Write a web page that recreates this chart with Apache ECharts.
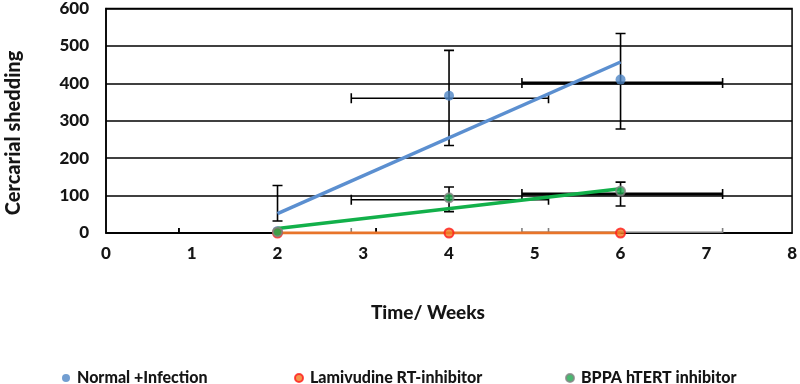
<!DOCTYPE html>
<html>
<head>
<meta charset="utf-8">
<script src="https://cdn.jsdelivr.net/npm/echarts@6/dist/echarts.min.js"></script>
<style>
html,body{margin:0;padding:0;background:#fff;}
#chart{width:800px;height:384px;}
</style>
</head>
<body>
<div id="chart"></div>
<script>
// ---- data ----
const seriesNames = ['Normal +Infection', 'Lamivudine RT-inhibitor', 'BPPA hTERT inhibitor'];
const weeks = [2, 4, 6];
const normalValues = [5, 367, 410];
const lamivudineValues = [0, 0, 0];
const bppaValues = [3, 94, 112];

// linear trendlines (endpoints)
const normalTrend = [[2, 52], [6, 457]];
const lamivudineTrend = [[2, 0], [6, 0]];
const bppaTrend = [[2, 12], [6, 118]];

// vertical error bars: [x, low, high]
const normalVErr = [[2, 32, 127], [4, 234, 488], [6, 278, 533]];
const bppaVErr = [[4, 57, 123], [6, 72, 136]];

// horizontal error bars: [y, xLow, xHigh]
const normalHErr = [[0, 0.85, 3.15], [360, 2.86, 5.16], [401, 4.85, 7.19]];
const bppaHErr = [[0, 0.85, 3.15], [89, 2.86, 5.16], [104, 4.85, 7.19]];
const lamivudineHErr = [[0, 2.86, 5.16], [0, 4.85, 7.19]];

const xTicks = [0, 1, 2, 3, 4, 5, 6, 7, 8];
const yTicks = [0, 100, 200, 300, 400, 500, 600];

// ---- chart ----
const FONT = 'Lato';
const TXT = '#151515';
const chart = echarts.init(document.getElementById('chart'), null, {renderer: 'canvas'});

function vErrRender(params, api) {
  const x = api.value(0);
  const lo = api.coord([x, api.value(1)]);
  const hi = api.coord([x, api.value(2)]);
  const cap = 5;
  const style = {stroke: '#000', lineWidth: 1.6};
  return {
    type: 'group',
    children: [
      {type: 'line', shape: {x1: lo[0], y1: lo[1], x2: hi[0], y2: hi[1]}, style},
      {type: 'line', shape: {x1: lo[0] - cap, y1: lo[1], x2: lo[0] + cap, y2: lo[1]}, style},
      {type: 'line', shape: {x1: hi[0] - cap, y1: hi[1], x2: hi[0] + cap, y2: hi[1]}, style}
    ]
  };
}
function hErrRenderFactory(color) {
  return function (params, api) {
    const y = api.value(0);
    const a = api.coord([api.value(1), y]);
    const b = api.coord([api.value(2), y]);
    const thick = api.value(1) > 4.5 ? 3 : 1.6;
    const cap = 5;
    const style = {stroke: color, lineWidth: thick};
    const capStyle = {stroke: color, lineWidth: 1.6};
    return {
      type: 'group',
      children: [
        {type: 'line', shape: {x1: a[0], y1: a[1], x2: b[0], y2: b[1]}, style},
        {type: 'line', shape: {x1: a[0], y1: a[1] - cap, x2: a[0], y2: a[1] + cap}, style: capStyle},
        {type: 'line', shape: {x1: b[0], y1: b[1] - cap, x2: b[0], y2: b[1] + cap}, style: capStyle}
      ]
    };
  };
}
function pts(values) { return weeks.map((w, i) => [w, values[i]]); }

const legendBase = {
  top: 365, orient: 'horizontal', icon: 'circle',
  itemWidth: 8, itemHeight: 8,
  textStyle: {fontFamily: FONT, fontWeight: 900, fontSize: 16, color: TXT, padding: [0, 0, 0, 2]}
};

const option = {
  backgroundColor: '#fff',
  animation: false,
  grid: {left: 106, right: 5, top: 7, bottom: 151, show: true, borderColor: '#000', borderWidth: 1.5, backgroundColor: '#fff'},
  xAxis: {
    type: 'value', min: xTicks[0], max: xTicks[xTicks.length - 1], interval: 1,
    axisLine: {show: true, onZero: false, lineStyle: {color: '#000', width: 1.5}},
    axisTick: {show: false},
    splitLine: {show: false},
    axisLabel: {fontFamily: FONT, fontWeight: 900, fontSize: 17, color: TXT, margin: 12}
  },
  yAxis: {
    type: 'value', min: yTicks[0], max: yTicks[yTicks.length - 1], interval: 100,
    axisLine: {show: true, lineStyle: {color: '#000', width: 1.5}},
    axisTick: {show: false},
    splitLine: {show: true, lineStyle: {color: '#000', width: 1.5}},
    axisLabel: {fontFamily: FONT, fontWeight: 900, fontSize: 17, color: TXT, margin: 17}
  },
  legend: [
    Object.assign({}, legendBase, {left: 57, data: [{name: seriesNames[0]}]}),
    Object.assign({}, legendBase, {left: 289, data: [{name: seriesNames[1]}]}),
    Object.assign({}, legendBase, {left: 560, data: [{name: seriesNames[2]}]})
  ],
  graphic: [
    {type: 'text', x: 14, y: 133, rotation: Math.PI / 2,
     style: {text: 'Cercarial shedding', font: '900 20px Lato', fill: TXT, textAlign: 'center', textVerticalAlign: 'middle'}},
    {type: 'text', x: 428, y: 313,
     style: {text: 'Time/ Weeks', font: '900 19px Lato', fill: TXT, textAlign: 'center', textVerticalAlign: 'middle'}}
  ],
  series: [
    {type: 'custom', name: 'lamH', data: lamivudineHErr, renderItem: hErrRenderFactory('#7f7f7f'), clip: true, z: 3, silent: true},
    {type: 'custom', name: 'normH', data: normalHErr, renderItem: hErrRenderFactory('#000'), clip: true, z: 3, silent: true},
    {type: 'custom', name: 'bppaH', data: bppaHErr, renderItem: hErrRenderFactory('#000'), clip: true, z: 3, silent: true},
    {type: 'custom', name: 'normV', data: normalVErr, renderItem: vErrRender, clip: true, z: 3, silent: true},
    {type: 'custom', name: 'bppaV', data: bppaVErr, renderItem: vErrRender, clip: true, z: 3, silent: true},
    {type: 'scatter', name: seriesNames[0], data: pts(normalValues), symbolSize: 10,
     itemStyle: {color: '#4f86c6'}, z: 4},
    {type: 'line', name: 'tNormal', data: normalTrend, showSymbol: false, symbol: 'none',
     lineStyle: {color: '#5b8fd0', width: 3.5}, z: 5, silent: true},
    {type: 'line', name: 'tLam', data: lamivudineTrend, showSymbol: false, symbol: 'none',
     lineStyle: {color: '#e8742a', width: 3}, z: 5, silent: true},
    {type: 'line', name: 'tBppa', data: bppaTrend, showSymbol: false, symbol: 'none',
     lineStyle: {color: '#12b04a', width: 3.5}, z: 5, silent: true},
    {type: 'scatter', name: seriesNames[1], data: pts(lamivudineValues), symbolSize: 9,
     itemStyle: {color: '#f07a20', borderColor: '#ff1a1a', borderWidth: 2}, z: 6},
    {type: 'scatter', name: seriesNames[2], data: pts(bppaValues), symbolSize: 9,
     itemStyle: {color: '#1aa84c', borderColor: '#858585', borderWidth: 2}, z: 6}
  ]
};
chart.setOption(option);
</script>
</body>
</html>
